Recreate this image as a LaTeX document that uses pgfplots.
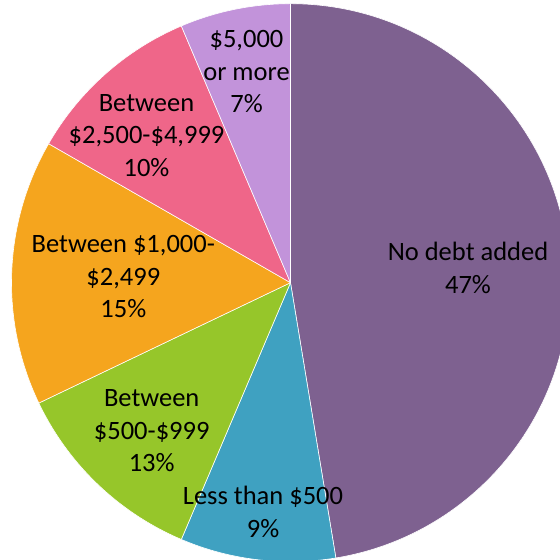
\documentclass[border=0pt]{standalone}
\usepackage{pgfplots}
\usepackage{pgfplotstable}
\pgfplotsset{compat=1.18}
\usepackage{fontspec}
\setmainfont{Carlito}
\definecolor{s0}{HTML}{7E6190}
\definecolor{s1}{HTML}{3FA1C1}
\definecolor{s2}{HTML}{96C62A}
\definecolor{s3}{HTML}{F5A51E}
\definecolor{s4}{HTML}{EF6689}
\definecolor{s5}{HTML}{C293DA}

% slice shares (clockwise from 12 o'clock), as drawn
\pgfplotstableread{
share label
47.4 {No debt added}
9.0  {Less than \$500}
11.5 {Between \$500-\$999}
15.4 {Between \$1,000-\$2,499}
10.3 {Between \$2,500-\$4,999}
6.4  {\$5,000 or more}
}\piedata

\begin{document}
\begin{tikzpicture}
\useasboundingbox (0,0) rectangle (280pt,280pt);
\clip (0,0) rectangle (280pt,280pt);
\begin{axis}[
  scale only axis, width=280pt, height=280pt,
  at={(0,0)}, anchor=south west,
  xmin=0, xmax=560, ymin=0, ymax=560,
  hide axis, clip=true,
]
\pgfplotsextra{
  \pgfplotstablegetrowsof{\piedata}
  \pgfmathtruncatemacro\nrows{\pgfplotsretval-1}
  \gdef\cum{0}
  \foreach \i in {0,...,\nrows}{
    \pgfplotstablegetelem{\i}{share}\of\piedata
    \let\v\pgfplotsretval
    \pgfmathsetmacro\aone{90-3.6*\cum}
    \pgfmathsetmacro\atwo{90-3.6*(\cum+\v)}
    \fill[s\i, draw=white, line width=0.3pt, line join=round]
      (axis cs:290.5,277.3) -- ++(\aone:279) arc[start angle=\aone, end angle=\atwo, radius=279] -- cycle;
    \pgfmathsetmacro\newcum{\cum+\v}
    \xdef\cum{\newcum}
  }
}
\begin{scope}[every node/.style={align=center, anchor=base, font=\fontsize{13.25}{16.3}\selectfont, inner sep=0pt}]
\node at (axis cs:468,{560-293.3}) {No debt added\\47\%};
\node at (axis cs:263,{560-537.3}) {Less than \$500\\9\%};
\node at (axis cs:151.7,{560-472}) {Between\\\$500-\$999\\13\%};
\node at (axis cs:123.3,{560-317.7}) {Between \$1,000-\\\$2,499\\15\%};
\node at (axis cs:146.5,{560-176.5}) {Between\\\$2,500-\$4,999\\10\%};
\node at (axis cs:246.5,{560-113}) {\$5,000\\or more\\7\%};
\end{scope}
\end{axis}
\end{tikzpicture}
\end{document}
